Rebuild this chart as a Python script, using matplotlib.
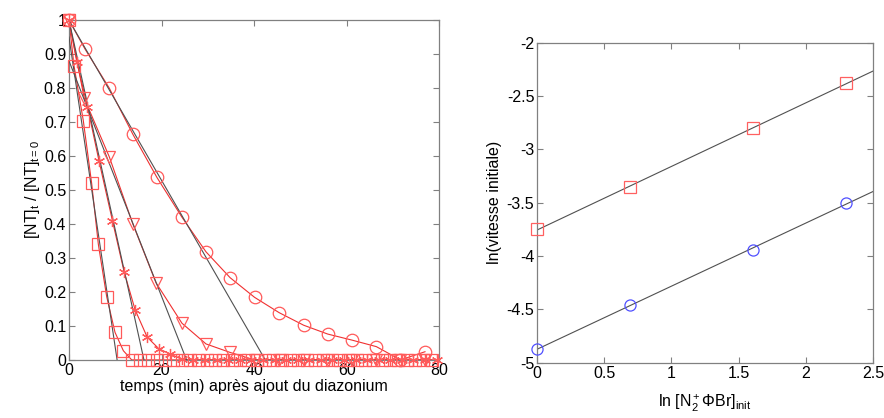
#!/bin/python3

# Libraries
import matplotlib
matplotlib.use('Agg')
import matplotlib.pyplot as plt
import numpy as np

plt.rcParams['font.family'] = ['Liberation Sans', 'DejaVu Sans']
plt.rcParams['axes.unicode_minus'] = False
plt.rcParams['mathtext.fontset'] = 'custom'
plt.rcParams['mathtext.rm'] = 'Liberation Sans'
plt.rcParams['mathtext.it'] = 'Liberation Sans'

# ---------------------------------------------------------------------------
# Left panel : [NT]t / [NT]t=0 versus time (min)
# ---------------------------------------------------------------------------
t_circle = [0, 3.5, 8.7, 13.8, 19.0, 24.4, 29.6, 34.8, 40.1, 45.4, 50.7, 55.9,
            61.2, 66.4, 71.6, 76.9]
v_circle = [1.0, 0.914, 0.800, 0.664, 0.537, 0.420, 0.318, 0.242, 0.184, 0.139,
            0.102, 0.076, 0.058, 0.039, 0.0, 0.024]

t_tri = [0, 3.3, 8.7, 13.8, 18.8, 24.4, 29.6, 34.8, 40.1, 45.4, 50.7, 55.9,
         61.2, 66.4, 71.6, 76.9]
v_tri = [1.0, 0.770, 0.598, 0.400, 0.227, 0.108, 0.047, 0.022, 0.0, 0.0,
         0.0, 0.0, 0.0, 0.0, 0.0, 0.0]

t_star = [0, 1.7, 4.0, 6.5, 9.4, 11.9, 14.3, 16.9, 19.4, 21.9, 24.4, 26.9,
          29.4, 31.9, 34.4, 36.9, 39.4, 41.9, 44.4, 46.9, 49.4, 51.9, 54.4,
          56.9, 59.4, 61.9, 64.4, 66.9, 69.4, 71.9, 74.4, 76.9, 79.4]
v_star = [1.0, 0.877, 0.745, 0.585, 0.409, 0.260, 0.147, 0.067, 0.033, 0.017,
          0.002, 0.0, 0.0, 0.0, 0.0, 0.0, 0.0, 0.0, 0.0, 0.0, 0.0, 0.0, 0.0,
          0.0, 0.0, 0.0, 0.0, 0.0, 0.0, 0.0, 0.0, 0.0, 0.0]

t_square = [0, 1.1, 3.1, 4.9, 6.35, 8.15, 9.95, 11.75, 13.55, 15.35, 17.15,
            18.95, 20.75, 22.55, 24.35, 26.15, 27.95, 29.75, 31.55, 33.35,
            35.15, 36.95, 38.75, 40.55, 42.35, 44.15, 45.95, 47.75, 49.55,
            51.35, 53.15, 54.95, 56.75, 58.55, 60.35, 62.15, 63.95, 65.75,
            67.55, 69.35, 71.15, 72.95, 74.75, 76.55, 78.35]
v_square = [1.0, 0.865, 0.704, 0.520, 0.340, 0.186, 0.081, 0.027] + [0.0] * 37

# initial-rate straight lines: value at t=0 and time where they reach 0
fit_start = [1.0, 0.88, 1.0, 0.95]
fit_end = [42.4, 25.4, 16.2, 10.4]

# ---------------------------------------------------------------------------
# Right panel : ln(initial rate) versus ln [N2+ PhBr]init
# ---------------------------------------------------------------------------
ln_conc = [0.0, 0.693, 1.609, 2.303]
ln_rate_square = [-3.75, -3.35, -2.80, -2.38]
ln_rate_circle = [-4.87, -4.46, -3.94, -3.50]

red_line = '#f03030'
red_mark = '#ff5a5a'
fit_col = '#505050'
spine_col = '#808080'
fs = 11.5

fig = plt.figure(figsize=(8.84, 4.18), dpi=100)
ax1 = fig.add_axes([0.078, 0.139, 0.419, 0.813])
ax2 = fig.add_axes([0.6075, 0.132, 0.380, 0.766])

for t0, tend in zip(fit_start, fit_end):
    ax1.plot([0, tend], [t0, 0], color=fit_col, linewidth=0.8, zorder=3)

series = [(t_circle, v_circle, 'o', 9), (t_tri, v_tri, 'v', 9),
          (t_star, v_star, (6, 2, 0), 8), (t_square, v_square, 's', 9)]
for t, v, m, ms in series:
    ax1.plot(t, v, color=red_line, linewidth=0.8, zorder=2)
    ax1.plot(t, v, linestyle='none', marker=m, markersize=ms,
             markerfacecolor='none', markeredgecolor=red_mark,
             markeredgewidth=0.9, clip_on=False, zorder=4)

ax1.set_xlim(0, 80)
ax1.set_ylim(0, 1)
ax1.set_xticks([0, 20, 40, 60, 80])
ax1.set_yticks(np.arange(0, 1.01, 0.1))
ax1.set_yticklabels(['0', '0.1', '0.2', '0.3', '0.4', '0.5', '0.6', '0.7',
                     '0.8', '0.9', '1'])
ax1.set_xlabel('temps (min) après ajout du diazonium', fontsize=fs, labelpad=1)
ax1.set_ylabel(r'[NT]$_{\rm t}$ / [NT]$_{\rm t=0}$', fontsize=fs, labelpad=1)

# fitted lines in log-log plot
xfit = np.array([0, 2.5])
for y, col, m in [(ln_rate_square, '#ff6060', 's'), (ln_rate_circle, '#5050ff', 'o')]:
    p = np.polyfit(ln_conc, y, 1)
    ax2.plot(xfit, np.polyval(p, xfit), color=fit_col, linewidth=0.8, zorder=2)
    ax2.plot(ln_conc, y, linestyle='none', marker=m, markersize=8,
             markerfacecolor='none', markeredgecolor=col,
             markeredgewidth=0.9, clip_on=False, zorder=3)

ax2.set_xlim(0, 2.5)
ax2.set_ylim(-5, -2)
ax2.set_xticks([0, 0.5, 1, 1.5, 2, 2.5])
ax2.set_xticklabels(['0', '0.5', '1', '1.5', '2', '2.5'])
ax2.set_yticks([-5, -4.5, -4, -3.5, -3, -2.5, -2])
ax2.set_yticklabels(['-5', '-4.5', '-4', '-3.5', '-3', '-2.5', '-2'])
ax2.set_xlabel(r'ln [N$_2^+\Phi$Br]$_{\rm init}$', fontsize=fs, labelpad=9)
ax2.set_ylabel('ln(vitesse initiale)', fontsize=fs, labelpad=3)

for ax in (ax1, ax2):
    for s in ax.spines.values():
        s.set_color(spine_col)
        s.set_linewidth(0.9)
    ax.tick_params(direction='in', length=4, width=0.8, color=spine_col,
                   top=True, right=True, labelsize=fs, pad=2)

fig.savefig('out.png', dpi=100)
